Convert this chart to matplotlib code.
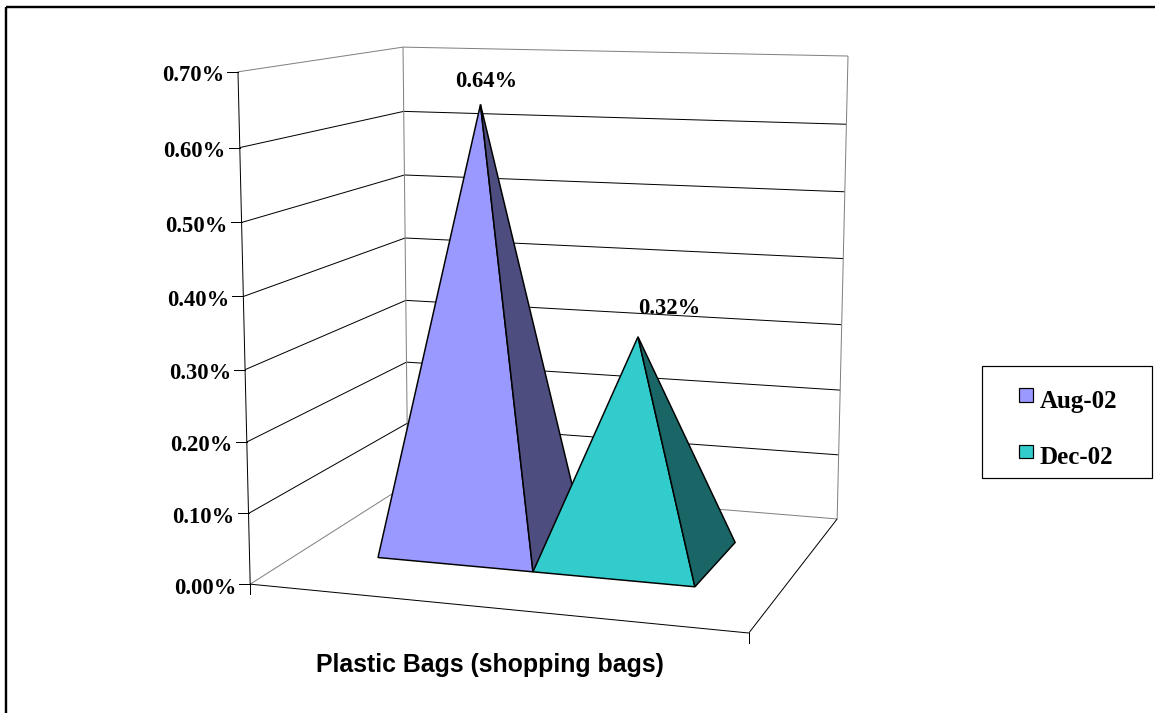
import numpy as np
import matplotlib
matplotlib.use("Agg")
import matplotlib.pyplot as plt
from matplotlib.patches import Polygon, Rectangle

# ---- data -------------------------------------------------------------
category_title = "Plastic Bags (shopping bags)"
series_names = ["Aug-02", "Dec-02"]
series_values = [0.64, 0.32]                      # percent
value_ticks = [0.0, 0.1, 0.2, 0.3, 0.4, 0.5, 0.6, 0.7]
tick_labels = [f"{v:.2f}%" for v in value_ticks]

# ---- style ------------------------------------------------------------
front_colors = ["#9999FF", "#33CCCC"]
side_colors = ["#4D4D80", "#1A6666"]
wall_edge = "#808080"
label_offsets_pt = [(3.8, 16.9), (22.8, 20.4)]    # data label offset from apex

W, H = 1155, 713
VMAX = value_ticks[-1]
SERIF = "Liberation Serif"
SANS = "Liberation Sans"
PX = 0.72                                         # one pixel in points at 100 dpi
NUM_FS = 16.3
LEG_FS = 18.0
TITLE_FS = 17.9

# ---- 3-D frame: x along categories, y into depth, z = value / VMAX -----
box_corners = np.array([[0, 0, 0], [0, 0, 1], [1, 0, 0], [0, 1, 0],
                        [0, 1, 1], [1, 1, 0], [1, 1, 1]], float)
canvas_corners = np.array([[250, 584], [238, 72], [749, 633], [408, 484],
                           [403, 47], [837, 519], [848, 56]], float)


def fit_camera(X, u):
    """Direct linear transform for a 3x4 perspective camera."""
    mu = u.mean(0)
    s = np.sqrt(2) / np.mean(np.linalg.norm(u - mu, axis=1))
    T = np.array([[s, 0, -s * mu[0]], [0, s, -s * mu[1]], [0, 0, 1]])
    un = (u - mu) * s
    rows = []
    for (x, y, z), (a, b) in zip(X, un):
        rows.append([x, y, z, 1, 0, 0, 0, 0, -a * x, -a * y, -a * z, -a])
        rows.append([0, 0, 0, 0, x, y, z, 1, -b * x, -b * y, -b * z, -b])
    _, _, vt = np.linalg.svd(np.array(rows))
    return np.linalg.inv(T) @ vt[-1].reshape(3, 4)


P = fit_camera(box_corners, canvas_corners)
_, _, vtc = np.linalg.svd(P)
cam = vtc[-1][:3] / vtc[-1][3]


def proj(pts):
    pts = np.atleast_2d(np.asarray(pts, float))
    h = np.c_[pts, np.ones(len(pts))] @ P.T
    return h[:, :2] / h[:, 2:3]


fig = plt.figure(figsize=(W / 100, H / 100), dpi=100)
ax = fig.add_axes([0, 0, 1, 1])
ax.set_xlim(0, W)
ax.set_ylim(H, 0)
ax.axis("off")


def seg(p, q, color="black", lw=1.0, z=2):
    a, b = proj([p, q])
    ax.plot([a[0], b[0]], [a[1], b[1]], color=color, lw=lw * PX,
            solid_capstyle="butt", zorder=z)


# chart-area border
ax.add_patch(Rectangle((6, 7), 3000, 3000, fill=False, ec="black",
                       lw=2.4 * PX, zorder=1))

# walls: gridlines
for v in value_ticks:
    z = v / VMAX
    edge = v in (value_ticks[0], value_ticks[-1])
    seg((0, 0, z), (0, 1, z), wall_edge if edge else "black")
    seg((0, 1, z), (1, 1, z), wall_edge if edge else "black")
# wall verticals
seg((0, 1, 0), (0, 1, 1), wall_edge)
seg((1, 1, 0), (1, 1, 1), wall_edge)
# floor front/right edges and value axis
seg((0, 0, 0), (1, 0, 0), "black", z=3)
seg((1, 0, 0), (1, 1, 0), "black", z=3)
seg((0, 0, 0), (0, 0, 1), "black", z=3)

# value-axis ticks and labels
for v, lab in zip(value_ticks, tick_labels):
    (x, y), = proj([(0, 0, v / VMAX)])
    ax.plot([x - 11, x], [y, y], color="black", lw=PX, zorder=3)
    ax.text(x - 14, y + 4, lab, ha="right", va="center", fontsize=NUM_FS,
            fontweight="bold", family=SERIF, zorder=3)

# category-axis ticks at the category boundaries
for cx in (0, 1):
    (x, y), = proj([(cx, 0, 0)])
    ax.plot([x, x], [y, y + 10], color="black", lw=PX, zorder=3)

# ---- pyramids -----------------------------------------------------------
n = len(series_values)
gap = 1.0                       # gap width = one bar width
bw = 1.0 / (n + gap)
x_start = (1 - n * bw) / 2
y0, y1 = 0.3, 0.7               # bar depth

pyramids = []
for i, val in enumerate(series_values):
    x0 = x_start + i * bw
    x1 = x0 + bw
    apex = np.array([(x0 + x1) / 2, (y0 + y1) / 2, val / VMAX])
    base = np.array([[x0, y0, 0], [x1, y0, 0], [x1, y1, 0], [x0, y1, 0]], float)
    centre = np.r_[base.mean(0)[:2], apex[2] / 4]
    dist = np.linalg.norm(apex - cam)
    pyramids.append((dist, i, base, apex, centre))

for dist, i, base, apex, centre in sorted(pyramids, key=lambda t: -t[0]):
    face_cols = [front_colors[i], side_colors[i], front_colors[i], side_colors[i]]
    for k in range(4):
        a, b = base[k], base[(k + 1) % 4]
        tri = np.array([a, b, apex])
        nrm = np.cross(b - a, apex - a)
        if np.dot(nrm, tri.mean(0) - centre) < 0:
            nrm = -nrm
        if np.dot(nrm, cam - a) <= 0:
            continue
        ax.add_patch(Polygon(proj(tri), closed=True, fc=face_cols[k],
                             ec="black", lw=1.5 * PX, joinstyle="miter",
                             zorder=5))
    (ax_, ay_), = proj([apex])
    ax.annotate(f"{series_values[i]:.2f}%", (ax_, ay_),
                xytext=label_offsets_pt[i], textcoords="offset points",
                ha="center", va="center", fontsize=NUM_FS, fontweight="bold",
                family=SERIF, zorder=6)

# category title
ax.text(489.5, 672, category_title, ha="center", va="baseline",
        fontsize=TITLE_FS, fontweight="bold", family=SANS)

# ---- legend ---------------------------------------------------------------
ax.add_patch(Rectangle((982, 366), 170, 112, fill=True, fc="white",
                       ec="black", lw=1.2 * PX, zorder=6))
for j, (name, col) in enumerate(zip(series_names, front_colors)):
    top = 388 + j * 56.5
    ax.add_patch(Rectangle((1019, top), 14, 13.5, fc=col, ec="black",
                           lw=1.2 * PX, zorder=7))
    ax.text(1040, top + 20, name, ha="left", va="baseline", fontsize=LEG_FS,
            fontweight="bold", family=SERIF, zorder=7)

fig.savefig("out.png", dpi=100)
